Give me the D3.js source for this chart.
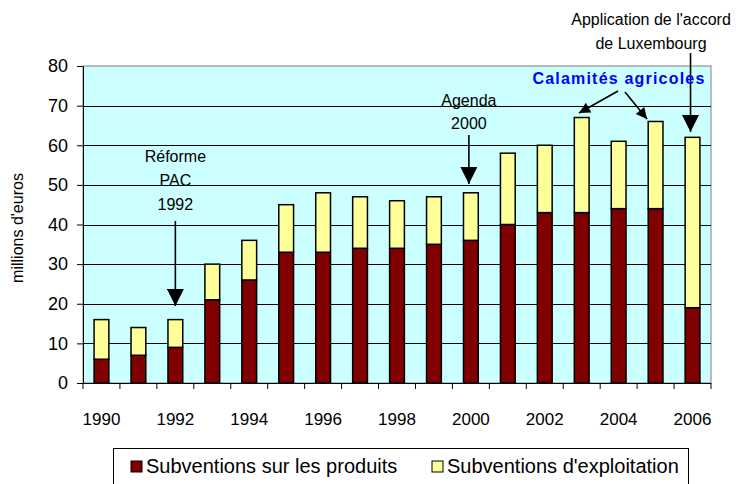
<!DOCTYPE html>
<html>
<head>
<meta charset="utf-8">
<script src="https://cdn.jsdelivr.net/npm/d3@7"></script>
<style>
  body { margin: 0; background: #fff; }
  svg text { font-family: Arial, "Liberation Sans", sans-serif; }
</style>
</head>
<body>
<div id="chart"></div>
<script>
// data (millions d'euros)
var years = [1990, 1991, 1992, 1993, 1994, 1995, 1996, 1997, 1998, 1999, 2000, 2001, 2002, 2003, 2004, 2005, 2006];
var produits = [6, 7, 9, 21, 26, 33, 33, 34, 34, 35, 36, 40, 43, 43, 44, 44, 19];
var totals = [16, 14, 16, 30, 36, 45, 48, 47, 46, 47, 48, 58, 60, 67, 61, 66, 62];
var exploitation = totals.map(function(t, i) { return t - produits[i]; });
var yTicks = [0, 10, 20, 30, 40, 50, 60, 70, 80];
var seriesNames = ["Subventions sur les produits", "Subventions d'exploitation"];
var colors = ["#800000", "#FFFF99"];

var width = 747,
    height = 484;
var plotLeft = 83, plotRight = 711, plotTop = 66, plotBottom = 383;

var svg = d3.select("#chart")
    .append("svg")
    .attr("width", width)
    .attr("height", height);

var x = d3.scaleBand()
    .domain(years)
    .range([plotLeft, plotRight])
    .paddingInner(0.6)
    .paddingOuter(0.3);

var y = d3.scaleLinear()
    .domain([0, 80])
    .range([plotBottom, plotTop]);

// plot background
svg.append("rect")
    .attr("x", plotLeft).attr("y", plotTop)
    .attr("width", plotRight - plotLeft).attr("height", plotBottom - plotTop)
    .attr("fill", "#CCFFFF")
    .attr("stroke", "#808080")
    .attr("stroke-width", 1);

// gridlines
svg.append("g")
    .selectAll("line")
    .data(yTicks.slice(1, -1))
    .enter().append("line")
    .attr("x1", plotLeft).attr("x2", plotRight)
    .attr("y1", function(d) { return Math.round(y(d)) + 0.5; })
    .attr("y2", function(d) { return Math.round(y(d)) + 0.5; })
    .attr("stroke", "#000")
    .attr("stroke-width", 1);

// stacked bars
var stackData = years.map(function(yr, i) {
    return { year: yr, produits: produits[i], exploitation: exploitation[i] };
});
var stack = d3.stack().keys(["produits", "exploitation"]);
var layers = stack(stackData);

svg.append("g")
    .selectAll("g")
    .data(layers)
    .enter().append("g")
    .attr("fill", function(d, i) { return colors[i]; })
    .selectAll("rect")
    .data(function(d) { return d; })
    .enter().append("rect")
    .attr("x", function(d) { return x(d.data.year); })
    .attr("y", function(d) { return y(d[1]); })
    .attr("width", x.bandwidth())
    .attr("height", function(d) { return y(d[0]) - y(d[1]); })
    .attr("stroke", "#000")
    .attr("stroke-width", 1.5);

// y axis
var yAxis = svg.append("g")
    .attr("transform", "translate(" + plotLeft + ",0)")
    .call(d3.axisLeft(y).tickValues(yTicks).tickSize(6).tickSizeOuter(0).tickPadding(9));
yAxis.select(".domain").attr("stroke", "#000");
yAxis.selectAll("text").attr("font-size", "18px").attr("fill", "#000")
    .attr("font-family", "Arial, 'Liberation Sans', sans-serif");

// x axis: ticks between categories, labels every other year
var step = x.step();
var bounds = d3.range(years.length + 1).map(function(i) { return plotLeft + i * step; });
svg.append("line")
    .attr("x1", plotLeft).attr("x2", plotRight)
    .attr("y1", plotBottom + 0.5).attr("y2", plotBottom + 0.5)
    .attr("stroke", "#000");
svg.append("g")
    .selectAll("line")
    .data(bounds)
    .enter().append("line")
    .attr("x1", function(d) { return d; })
    .attr("x2", function(d) { return d; })
    .attr("y1", plotBottom).attr("y2", plotBottom + 6)
    .attr("stroke", "#000");

var xAxis = svg.append("g")
    .attr("transform", "translate(0," + plotBottom + ")")
    .call(d3.axisBottom(x).tickSize(0).tickPadding(30)
        .tickFormat(function(d) { return d % 2 === 0 ? d : ""; }));
xAxis.select(".domain").remove();
xAxis.selectAll("text").attr("font-size", "17px").attr("fill", "#000")
    .attr("font-family", "Arial, 'Liberation Sans', sans-serif");

// y title
svg.append("text")
    .attr("transform", "translate(23,228) rotate(-90)")
    .attr("text-anchor", "middle")
    .attr("font-size", "16px")
    .text("millions d'euros");

// arrow markers
var defs = svg.append("defs");
defs.append("marker")
    .attr("id", "bigHead")
    .attr("viewBox", "0 0 10 10")
    .attr("refX", 10).attr("refY", 5)
    .attr("markerUnits", "userSpaceOnUse")
    .attr("markerWidth", 17).attr("markerHeight", 17)
    .attr("orient", "auto")
    .append("path").attr("d", "M0,0L10,5L0,10Z").attr("fill", "#000");
defs.append("marker")
    .attr("id", "smallHead")
    .attr("viewBox", "0 0 10 10")
    .attr("refX", 10).attr("refY", 5)
    .attr("markerUnits", "userSpaceOnUse")
    .attr("markerWidth", 13).attr("markerHeight", 11)
    .attr("orient", "auto")
    .append("path").attr("d", "M0,0L10,5L0,10Z").attr("fill", "#000");

function arrow(x1, y1, x2, y2, head) {
    svg.append("line")
        .attr("x1", x1).attr("y1", y1)
        .attr("x2", x2).attr("y2", y2)
        .attr("stroke", "#000")
        .attr("stroke-width", 1.6)
        .attr("marker-end", "url(#" + head + ")");
}

function label(lines, cx, y0, dy) {
    var t = svg.append("text")
        .attr("text-anchor", "middle")
        .attr("font-size", "16px")
        .attr("fill", "#000");
    lines.forEach(function(s, i) {
        t.append("tspan").attr("x", cx).attr("y", y0 + i * dy).text(s);
    });
}

var cx = function(yr) { return x(yr) + x.bandwidth() / 2; };

// Réforme PAC 1992
label(["Réforme", "PAC", "1992"], cx(1992), 162, 24);
arrow(cx(1992), 221, cx(1992), 306, "bigHead");

// Agenda 2000
label(["Agenda", "2000"], cx(2000) - 2, 106, 23);
arrow(cx(2000) - 2, 135, cx(2000) - 2, 184, "bigHead");

// Luxembourg
label(["Application de l'accord", "de Luxembourg"], 651, 25, 24);
arrow(cx(2006) - 2, 53, cx(2006) - 2, 132, "bigHead");

// Calamités agricoles
svg.append("text")
    .attr("x", 619).attr("y", 84)
    .attr("text-anchor", "middle")
    .attr("font-size", "16px")
    .attr("font-weight", "bold")
    .attr("letter-spacing", "1.2px")
    .attr("fill", "#0000FF")
    .text("Calamités agricoles");
arrow(618, 91, 579, 113, "smallHead");
arrow(625, 92, 647, 119, "smallHead");

// legend
var legend = svg.append("g");
legend.append("rect")
    .attr("x", 113.5).attr("y", 448.5)
    .attr("width", 575).attr("height", 45)
    .attr("fill", "#fff")
    .attr("stroke", "#000")
    .attr("stroke-width", 1);

var legendX = [131, 432];
var items = legend.selectAll("g.item")
    .data(seriesNames)
    .enter().append("g")
    .attr("class", "item")
    .attr("transform", function(d, i) { return "translate(" + legendX[i] + ",461)"; });
items.append("rect")
    .attr("width", 11).attr("height", 11)
    .attr("fill", function(d, i) { return colors[i]; })
    .attr("stroke", "#000");
items.append("text")
    .attr("x", 15).attr("y", 12)
    .attr("font-size", "20px")
    .text(function(d) { return d; });
</script>
</body>
</html>
